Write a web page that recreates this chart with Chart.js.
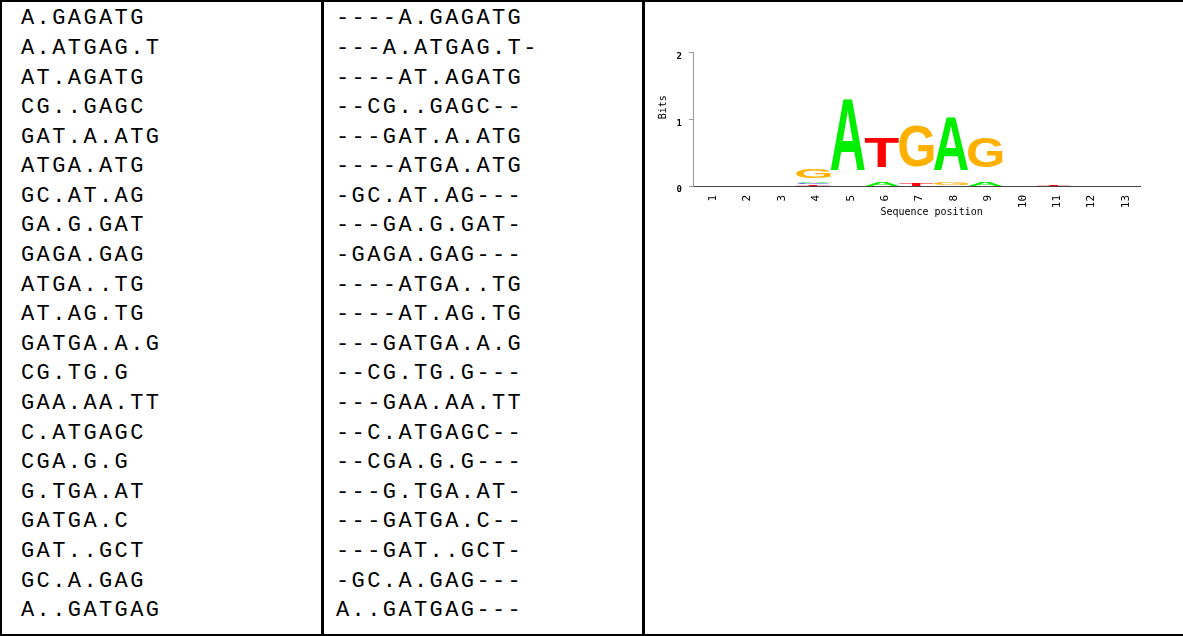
<!DOCTYPE html>
<html lang="en">
<head>
    <meta charset="UTF-8">
    <title>Motif logo</title>
    <script src="https://cdn.jsdelivr.net/npm/chart.js"></script>
    <style>
      html, body{
        margin: 0;
        background: #ffffff;
        overflow: hidden;
        width: 1183px;
        height: 636px;
      }
      body{
        position: relative;
      }
      table.seqs{
        position: absolute;
        left: 0;
        top: 0;
        width: 1200px;
        table-layout: fixed;
        border-collapse: separate;
        border-spacing: 0;
        border-top: 2px solid #000;
        border-left: 2px solid #000;
        border-bottom: 2px solid #000;
      }
      table.seqs td{
        box-sizing: border-box;
        vertical-align: top;
        padding: 2.33px 0 8px 0;
        font-family: "Liberation Mono", monospace;
        font-size: 22px;
        letter-spacing: 2.4px;
        line-height: 29.6px;
        color: #000;
        white-space: nowrap;
        overflow: hidden;
      }
      td.c1{ width: 322px; padding-left: 19px !important; border-right: 3px solid #000; }
      td.c2{ width: 321px; padding-left: 12px !important; border-right: 3px solid #000; }
      td.c3{ width: 555px; }
      .logo{
        position: absolute;
        left: 645px;
        top: 40px;
        width: 505px;
        height: 190px;
      }
    </style>
</head>
<body>
  <table class="seqs">
    <tr>
      <td class="c1" id="col1"></td>
      <td class="c2" id="col2"></td>
      <td class="c3"></td>
    </tr>
  </table>

  <div class="logo">
    <canvas id="logoChart"></canvas>
  </div>

<script>
  // sites as found, and the same sites after alignment
  const sites = ['A.GAGATG', 'A.ATGAG.T', 'AT.AGATG', 'CG..GAGC', 'GAT.A.ATG', 'ATGA.ATG', 'GC.AT.AG',
    'GA.G.GAT', 'GAGA.GAG', 'ATGA..TG', 'AT.AG.TG', 'GATGA.A.G', 'CG.TG.G', 'GAA.AA.TT', 'C.ATGAGC',
    'CGA.G.G', 'G.TGA.AT', 'GATGA.C', 'GAT..GCT', 'GC.A.GAG', 'A..GATGAG'];
  const aligned = ['----A.GAGATG', '---A.ATGAG.T-', '----AT.AGATG', '--CG..GAGC--', '---GAT.A.ATG',
    '----ATGA.ATG', '-GC.AT.AG---', '---GA.G.GAT-', '-GAGA.GAG---', '----ATGA..TG', '----AT.AG.TG',
    '---GATGA.A.G', '--CG.TG.G---', '---GAA.AA.TT', '--C.ATGAGC--', '--CGA.G.G---', '---G.TGA.AT-',
    '---GATGA.C--', '---GAT..GCT-', '-GC.A.GAG---', 'A..GATGAG---'];

  // logo: each letter is a [bottom, top] span in bits per position
  const positions = ['1', '2', '3', '4', '5', '6', '7', '8', '9', '10', '11', '12', '13'];
  const letterA = [null, null, null, [0.045, 0.062], [0.247, 1.31], [0, 0.064], null, [0.247, 1.05], [0, 0.065], null, null, null, null];
  const letterC = [null, null, null, [0.032, 0.042], null, null, null, null, null, null, null, null, null];
  const letterG = [null, null, null, [0.118, 0.26], null, null, [0.296, 0.904], [0, 0.05], [0.277, 0.73], null, null, null, null];
  const letterT = [null, null, null, [0, 0.025], null, [0.277, 0.73], [0, 0.05], null, null, null, [0, 0.03], null, null];
  const bitTicks = [0, 1, 2];

  const letterColors = { A: '#00ee00', C: '#4848ff', G: '#ffb000', T: '#ff0000' };

  document.getElementById('col1').innerHTML = sites.join('<br>');
  document.getElementById('col2').innerHTML = aligned.join('<br>');

  // draws each letter stretched over its bar box
  const glyphPlugin = {
    id: 'glyphs',
    afterDatasetsDraw(chart) {
      const ctx = chart.ctx;
      chart.data.datasets.forEach((ds, i) => {
        const meta = chart.getDatasetMeta(i);
        ctx.save();
        ctx.font = 'bold 100px "Liberation Sans", Arial, sans-serif';
        ctx.textBaseline = 'alphabetic';
        ctx.textAlign = 'left';
        ctx.fillStyle = letterColors[ds.label];
        const m = ctx.measureText(ds.label);
        const gw = m.actualBoundingBoxLeft + m.actualBoundingBoxRight;
        const gh = m.actualBoundingBoxAscent + m.actualBoundingBoxDescent;
        meta.data.forEach((bar, j) => {
          if (!ds.data[j]) return;
          const left = bar.x - bar.width / 2;
          const bottom = Math.max(bar.y, bar.base);
          const h = Math.abs(bar.base - bar.y);
          ctx.save();
          ctx.translate(left, bottom);
          ctx.scale(bar.width / gw, h / gh);
          ctx.fillText(ds.label, m.actualBoundingBoxLeft, -m.actualBoundingBoxDescent);
          ctx.restore();
        });
        ctx.restore();
      });
    }
  };

  const smallFont = { family: 'DejaVu Sans Mono', size: 10 };

  new Chart(document.getElementById('logoChart'), {
    type: 'bar',
    data: {
      labels: positions,
      datasets: [
        { label: 'A', data: letterA },
        { label: 'C', data: letterC },
        { label: 'G', data: letterG },
        { label: 'T', data: letterT }
      ].map(d => Object.assign(d, {
        backgroundColor: 'rgba(0,0,0,0)',
        borderWidth: 0,
        grouped: false,
        barPercentage: 1,
        categoryPercentage: 1
      }))
    },
    options: {
      responsive: true,
      maintainAspectRatio: false,
      animation: false,
      layout: { padding: { top: 11, right: 10, left: 0, bottom: 0 } },
      plugins: { legend: { display: false }, tooltip: { enabled: false } },
      scales: {
        x: {
          offset: true,
          afterFit: s => { s.height = 44; },
          grid: { display: false },
          border: { color: '#444', width: 1 },
          ticks: { minRotation: 90, maxRotation: 90, autoSkip: false, padding: 1, labelOffset: 3, color: '#000',
                   font: { family: 'DejaVu Sans Mono', size: 11 } },
          title: { display: true, text: '     Sequence position', color: '#000', font: smallFont,
                   padding: { top: 0, bottom: 12 } }
        },
        y: {
          min: 0,
          max: 2,
          afterFit: s => { s.width = 48; },
          afterBuildTicks: s => { s.ticks = bitTicks.map(v => ({ value: v })); },
          grid: { drawOnChartArea: false, drawTicks: true, tickLength: 4, color: '#999' },
          border: { color: '#999', width: 1 },
          ticks: { padding: 7, labelOffset: 4, color: '#000',
                   font: { family: 'DejaVu Sans Mono', size: 9, weight: 'bold' } },
          title: { display: true, text: '    Bits', color: '#000', font: smallFont,
                   padding: { top: 12, bottom: 0 } }
        }
      }
    },
    plugins: [glyphPlugin]
  });
</script>
</body>
</html>
